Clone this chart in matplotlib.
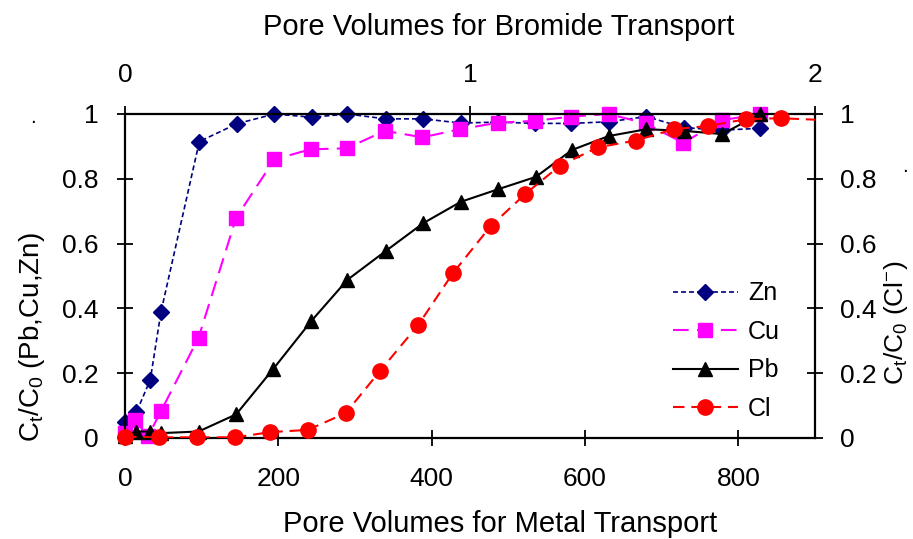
import matplotlib
matplotlib.use("Agg")
import matplotlib.pyplot as plt

plt.rcParams['font.family'] = ['Liberation Sans', 'DejaVu Sans']
plt.rcParams['mathtext.default'] = 'regular'
plt.rcParams['font.size'] = 19

# metal breakthrough, x = pore volumes for metal transport
zn_x = [0, 15, 33, 47, 97, 146, 195, 244, 290, 340, 389, 438, 486, 535, 582, 631, 680, 729, 779, 828]
zn_y = [0.05, 0.08, 0.18, 0.39, 0.915, 0.97, 1.0, 0.99, 1.0, 0.985, 0.985, 0.972, 0.975, 0.971, 0.971,
        0.976, 0.992, 0.958, 0.95, 0.956]

cu_x = [0, 13, 30, 47, 96, 145, 195, 242, 289, 339, 388, 437, 486, 535, 582, 631, 679, 728, 779, 828]
cu_y = [0.015, 0.055, 0.005, 0.083, 0.31, 0.68, 0.86, 0.891, 0.894, 0.948, 0.928, 0.953, 0.973, 0.979,
        0.992, 1.0, 0.971, 0.911, 0.981, 1.0]

pb_x = [0, 15, 33, 47, 96, 145, 193, 243, 290, 340, 389, 438, 487, 536, 583, 631, 680, 729, 779, 828]
pb_y = [0.005, 0.02, 0.02, 0.015, 0.02, 0.073, 0.212, 0.361, 0.488, 0.577, 0.663, 0.729, 0.768, 0.806,
        0.889, 0.932, 0.953, 0.948, 0.938, 1.0]

# chloride, x = pore volumes for bromide transport (last point lies past the axis)
cl_x = [0, 0.10, 0.21, 0.32, 0.42, 0.53, 0.64, 0.74, 0.85, 0.95, 1.06, 1.16, 1.26, 1.37, 1.48, 1.59,
        1.69, 1.80, 1.90, 2.01]
cl_y = [0.004, 0.002, 0.002, 0.002, 0.018, 0.025, 0.077, 0.208, 0.349, 0.508, 0.654, 0.753, 0.84,
        0.897, 0.918, 0.953, 0.963, 0.984, 0.987, 0.982]

x_ticks = [0, 200, 400, 600, 800]
top_ticks = [0, 1, 2]
y_ticks = [0, 0.2, 0.4, 0.6, 0.8, 1]
y_labels = ['0', '0.2', '0.4', '0.6', '0.8', '1']

fig = plt.figure(figsize=(9.13, 5.39), dpi=100)
pos = [0.1369, 0.1874, 0.7558, 0.6011]
ax = fig.add_axes(pos)
ax2 = fig.add_axes(pos, frameon=False)

h_zn, = ax.plot(zn_x, zn_y, color='#000080', lw=1.2, dashes=(3, 1.8), marker='D', ms=8,
                mec='#000080', mfc='#000080', clip_on=False)
h_cu, = ax.plot(cu_x, cu_y, color='#FF00FF', lw=1.5, dashes=(7.5, 4), marker='s', ms=10,
                mec='#FF00FF', mfc='#FF00FF', clip_on=False)
h_pb, = ax.plot(pb_x, pb_y, color='black', lw=1.5, marker='^', ms=10, clip_on=False)

cl_line, = ax2.plot(cl_x, cl_y, color='red', lw=1.5, dashes=(5.5, 3.3))
cl_pts, = ax2.plot(cl_x[:-1], cl_y[:-1], ls='none', marker='o', ms=11, color='red', clip_on=False)

ax.set_xlim(0, 900)
ax.set_ylim(0, 1)
ax.set_xticks(x_ticks)
ax.set_yticks(y_ticks)
ax.set_yticklabels(y_labels)
ax.tick_params(direction='inout', length=11.5, width=1.3)
ax.tick_params(axis='x', pad=15)
ax.tick_params(axis='y', pad=13)
for s in ax.spines.values():
    s.set_linewidth(1.6)
ax.set_xlabel('Pore Volumes for Metal Transport', fontsize=21)
ax.xaxis.set_label_coords(0.543, -0.222)
ax.set_ylabel(r'C$_t$/C$_0$ (Pb,Cu,Zn)', fontsize=20)
ax.yaxis.set_label_coords(-0.113, 0.31)

ax2.set_xlim(0, 2)
ax2.set_ylim(0, 1)
ax2.set_xticks(top_ticks)
ax2.set_yticks(y_ticks)
ax2.set_yticklabels(y_labels)
ax2.xaxis.tick_top()
ax2.xaxis.set_label_position('top')
ax2.yaxis.tick_right()
ax2.yaxis.set_label_position('right')
ax2.tick_params(direction='inout', length=11.5, width=1.3)
ax2.tick_params(axis='x', pad=14)
ax2.tick_params(axis='y', pad=12)
ax2.set_xlabel('Pore Volumes for Bromide Transport', fontsize=21)
ax2.xaxis.set_label_coords(0.542, 1.245)
ax2.set_ylabel(r'C$_t$/C$_0$ (Cl$^{-}$)', fontsize=19)
ax2.yaxis.set_label_coords(1.097, 0.355)

ax2.legend([h_zn, h_cu, h_pb, (cl_line, cl_pts)], ['Zn', 'Cu', 'Pb', 'Cl'],
           loc='upper left', bbox_to_anchor=(0.737, 0.478), bbox_transform=fig.transFigure,
           frameon=False, fontsize=18, handlelength=2.6, labelspacing=0.58, handletextpad=0.4,
           borderpad=0, borderaxespad=0)

fig.text(0.033, 0.772, '.', fontsize=15)
fig.text(0.988, 0.681, '.', fontsize=15)

fig.savefig('out.png', dpi=100)
